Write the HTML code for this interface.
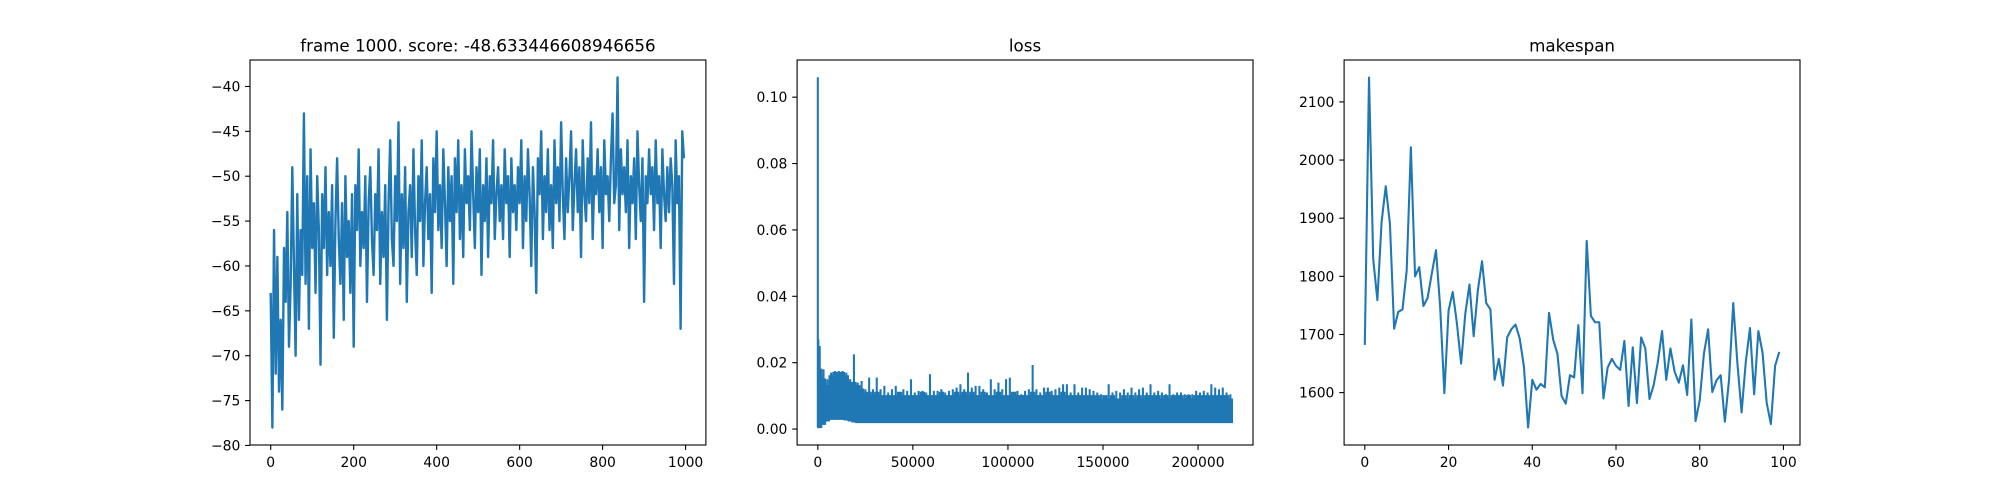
<!DOCTYPE html>
<html><head><meta charset="utf-8">
<style>
html,body{margin:0;padding:0;background:#fff;}
svg{display:block;font-family:"DejaVu Sans","Liberation Sans",sans-serif;}
</style></head>
<body>
<svg id="fig" width="2000" height="500" viewBox="0 0 2000 500" xmlns="http://www.w3.org/2000/svg">
<rect width="2000" height="500" fill="#fff"/>
</svg>
<script>
// ---- score chart data (sampled every 4 frames) ----
const scoreStep = 4;
const scoreValues = [
-63,-78,-56,-72,-59,-74,-66,-76,-58,-64,
-54,-69,-62,-49,-60,-70,-52,-66,-56,-61,
-43,-62,-50,-67,-47,-58,-53,-63,-50,-56,
-71,-52,-58,-49,-61,-54,-60,-51,-68,-55,
-48,-57,-62,-53,-66,-50,-59,-55,-63,-52,
-69,-51,-56,-47,-60,-54,-58,-50,-64,-53,
-49,-57,-61,-52,-56,-47,-62,-54,-59,-51,
-66,-53,-46,-57,-60,-50,-55,-44,-62,-52,
-58,-49,-64,-54,-51,-59,-47,-56,-61,-50,
-55,-46,-60,-53,-49,-57,-52,-63,-48,-54,
-45,-56,-51,-58,-47,-53,-60,-49,-55,-50,
-62,-48,-54,-46,-57,-51,-59,-47,-53,-50,
-56,-45,-52,-58,-49,-54,-47,-61,-51,-55,
-48,-59,-50,-53,-46,-57,-52,-49,-55,-51,
-57,-47,-53,-50,-59,-48,-54,-51,-56,-49,
-53,-46,-58,-50,-55,-47,-52,-60,-49,-54,
-63,-48,-52,-45,-57,-50,-54,-47,-56,-51,
-58,-46,-53,-49,-55,-44,-52,-57,-48,-54,
-50,-45,-56,-51,-47,-54,-49,-59,-46,-52,
-55,-48,-53,-44,-57,-50,-52,-47,-54,-49,
-58,-46,-52,-50,-55,-48,-43,-53,-51,-39,
-56,-47,-52,-49,-54,-46,-58,-50,-53,-48,
-57,-45,-51,-55,-48,-64,-50,-53,-47,-52,
-49,-56,-46,-53,-50,-58,-47,-52,-55,-49,
-54,-48,-51,-62,-46,-53,-50,-67,-45,-48];
const scoreXTicks = [0,200,400,600,800,1000];
const scoreYTicks = [-80,-75,-70,-65,-60,-55,-50,-45,-40];

// ---- loss chart data (chunk summaries, chunk width 2000 steps) ----
const lossChunk = 2000;
const lossSpikeX = [0, 300, 600];
const lossSpikeY = [0.106, 0.027, 0.025];
const lossLo = [0.0005,0.0015,0.0025,0.003,0.003,0.003,0.003,0.0028,0.0025,0.0022,
0.002,0.002,0.002,0.002,0.002,0.002,0.002,0.002,0.002,0.002];
const lossBody = [0.018,0.015,0.013,0.016,0.017,0.017,0.017,0.016,0.014,0.014,0.013,0.012,0.011,0.011,0.010,0.011,0.010,0.010,0.010,0.010,
0.010,0.011,0.010,0.010,0.010,0.010,0.010,0.011,0.010,0.010,0.010,0.010,0.011,0.010,0.010,0.010,0.011,0.010,0.011,0.010,
0.011,0.010,0.010,0.011,0.010,0.010,0.010,0.011,0.010,0.010,0.010,0.011,0.010,0.010,0.010,0.010,0.011,0.010,0.010,0.010,
0.011,0.010,0.010,0.010,0.011,0.010,0.010,0.010,0.010,0.010,0.010,0.010,0.010,0.010,0.009,0.010,0.009,0.010,0.009,0.009,
0.010,0.009,0.010,0.009,0.010,0.009,0.010,0.010,0.010,0.010,0.009,0.010,0.009,0.010,0.010,0.010,0.009,0.010,0.009,0.010,
0.010,0.010,0.010,0.010,0.010,0.010,0.010,0.010,0.009];
const lossPeak = [0.025,0.018,0.015,0.017,0.0175,0.0175,0.0175,0.017,0.015,0.0225,0.014,0.0145,0.012,0.0155,0.012,0.0155,0.012,0.013,0.011,0.012,
0.013,0.011,0.012,0.0115,0.015,0.011,0.0115,0.0115,0.011,0.0165,0.0115,0.0115,0.012,0.011,0.0115,0.012,0.0125,0.0135,0.012,0.017,
0.0125,0.013,0.013,0.012,0.011,0.015,0.012,0.014,0.012,0.015,0.0155,0.011,0.0115,0.0105,0.0115,0.012,0.0193,0.012,0.011,0.0125,
0.0125,0.0115,0.012,0.0125,0.0135,0.0135,0.011,0.0135,0.011,0.0125,0.0125,0.012,0.0115,0.011,0.0105,0.010,0.0135,0.011,0.0115,0.011,
0.012,0.011,0.0125,0.011,0.012,0.0125,0.011,0.0135,0.011,0.0115,0.011,0.0105,0.0135,0.0105,0.011,0.011,0.0105,0.0105,0.0105,0.0115,
0.011,0.0115,0.011,0.0135,0.0125,0.012,0.0125,0.011,0.0105];
const lossXTicks = [0,50000,100000,150000,200000];
const lossYTicks = [0.00,0.02,0.04,0.06,0.08,0.10];

// ---- makespan data ----
const makespan = [1682,2142,1830,1759,1893,1955,1890,1710,1739,1743,
1810,2022,1800,1816,1749,1763,1805,1845,1747,1599,
1741,1773,1719,1650,1736,1786,1697,1776,1826,1754,
1743,1622,1658,1612,1695,1709,1717,1693,1645,1540,
1622,1605,1615,1609,1737,1691,1667,1594,1581,1630,
1626,1716,1599,1861,1732,1721,1721,1590,1643,1658,
1646,1639,1689,1577,1678,1582,1695,1676,1589,1613,
1653,1706,1622,1676,1636,1617,1647,1596,1726,1551,
1587,1667,1709,1601,1621,1630,1550,1622,1754,1650,
1566,1653,1711,1597,1706,1669,1582,1546,1646,1670];
const msXTicks = [0,20,40,60,80,100];
const msYTicks = [1600,1700,1800,1900,2000,2100];

const svg = document.getElementById('fig');
const NS = 'http://www.w3.org/2000/svg';
const C = '#1f77b4';
const LW = 2.08;
const TOP = 60, BOT = 445;
function mk(tag, attrs, parent){
  const e = document.createElementNS(NS, tag);
  for (const k in attrs) e.setAttribute(k, attrs[k]);
  (parent||svg).appendChild(e);
  return e;
}
function lin(d0,d1,r0,r1){ return v => r0 + (v-d0)/(d1-d0)*(r1-r0); }

function axes(name, left, right, xlim, ylim, xt, yt, fmtX, fmtY, title){
  const g = mk('g', {});
  
  
  const sx = lin(xlim[0], xlim[1], left, right);
  const sy = lin(ylim[0], ylim[1], BOT, TOP);
  const plot = mk('g', {}, g);
  
  
  const xg = mk('g', {}, g);
  
  
  xt.forEach(v => {
    const x = sx(v);
    mk('line', {x1:x, x2:x, y1:BOT, y2:BOT+4.9, stroke:'#000', 'stroke-width':1.1}, xg);
    const t = mk('text', {x:x, y:BOT+22, 'font-size':13.9, 'text-anchor':'middle', fill:'#000'}, xg);
    
    
    t.textContent = fmtX(v);
  });
  const yg = mk('g', {}, g);
  
  
  yt.forEach(v => {
    const y = sy(v);
    mk('line', {x1:left-4.9, x2:left, y1:y, y2:y, stroke:'#000', 'stroke-width':1.1}, yg);
    const t = mk('text', {x:left-9.7, y:y+5, 'font-size':13.9, 'text-anchor':'end', fill:'#000'}, yg);
    
    
    t.textContent = fmtY(v);
  });
  const tt = mk('text', {x:(left+right)/2, y:51.5, 'font-size':16.7, 'text-anchor':'middle', fill:'#000'}, g);
  
  
  tt.textContent = title;
  return {g:plot, sx, sy, left, right, frame:g};
}
function frame(a){
  const r = mk('rect', {x:a.left, y:TOP, width:a.right-a.left, height:BOT-TOP, fill:'none', stroke:'#000', 'stroke-width':1.1}, a.frame);
  
  
}
const minus = s => s.replace('-', '\u2212');

// ---- axes 1: score ----
const L1 = 250, R1 = 705.9;
const n1 = (scoreValues.length-1)*scoreStep + 3;
const smin = Math.min(...scoreValues), smax = Math.max(...scoreValues);
const sp = (smax-smin)*0.05;
const a1 = axes('score-chart', L1, R1, [-0.05*n1, n1*1.05], [smin-sp, smax+sp], scoreXTicks, scoreYTicks,
  v => String(v), v => minus(String(v)), 'frame 1000. score: -48.633446608946656');
const d1 = scoreValues.map((v,i)=> (i?'L':'M') + a1.sx(i*scoreStep).toFixed(2) + ',' + a1.sy(v).toFixed(2)).join('');
const p1 = mk('path', {d:d1, fill:'none', stroke:C, 'stroke-width':2.4, 'stroke-linejoin':'round'}, a1.g);


frame(a1);

// ---- axes 2: loss ----
const L2 = 797.1, R2 = 1253;
const nLoss = lossBody.length * lossChunk;
const a2 = axes('loss-chart', L2, R2, [-0.05*nLoss, nLoss*1.05], [-0.0048, 0.1112], lossXTicks, lossYTicks,
  v => String(v), v => v.toFixed(2), 'loss');
const lo = i => lossLo[Math.min(i, lossLo.length-1)];
const bandTop = [], bandBot = [];
lossBody.forEach((v,i)=>{
  const x0 = a2.sx(i*lossChunk), x1 = a2.sx((i+1)*lossChunk);
  bandTop.push(x0.toFixed(2)+','+a2.sy(v).toFixed(2), x1.toFixed(2)+','+a2.sy(v).toFixed(2));
  bandBot.unshift(x1.toFixed(2)+','+a2.sy(lo(i)).toFixed(2), x0.toFixed(2)+','+a2.sy(lo(i)).toFixed(2));
});
const band = mk('polygon', {points: bandTop.concat(bandBot).join(' '), fill:C, stroke:C, 'stroke-width':1.5}, a2.g);


let dp = '';
lossPeak.forEach((v,i)=>{
  const x = a2.sx(i*lossChunk + lossChunk*0.5);
  dp += 'M'+x.toFixed(2)+','+a2.sy(lossBody[i]).toFixed(2)+'L'+x.toFixed(2)+','+a2.sy(v).toFixed(2);
});
lossSpikeX.forEach((x,i)=>{
  const px = a2.sx(x);
  dp += 'M'+px.toFixed(2)+','+a2.sy(0.0005).toFixed(2)+'L'+px.toFixed(2)+','+a2.sy(lossSpikeY[i]).toFixed(2);
});
const spikes = mk('path', {d:dp, fill:'none', stroke:C, 'stroke-width':LW}, a2.g);


frame(a2);

// ---- axes 3: makespan ----
const L3 = 1344.1, R3 = 1800;
const n3 = makespan.length-1;
const mmin = Math.min(...makespan), mmax = Math.max(...makespan), mp = (mmax-mmin)*0.05;
const a3 = axes('makespan-chart', L3, R3, [-0.05*n3, n3*1.05], [mmin-mp, mmax+mp], msXTicks, msYTicks,
  v => String(v), v => String(v), 'makespan');
const d3 = makespan.map((v,i)=> (i?'L':'M') + a3.sx(i).toFixed(2) + ',' + a3.sy(v).toFixed(2)).join('');
const p3 = mk('path', {d:d3, fill:'none', stroke:C, 'stroke-width':LW, 'stroke-linejoin':'round'}, a3.g);


frame(a3);
</script>
</body></html>
